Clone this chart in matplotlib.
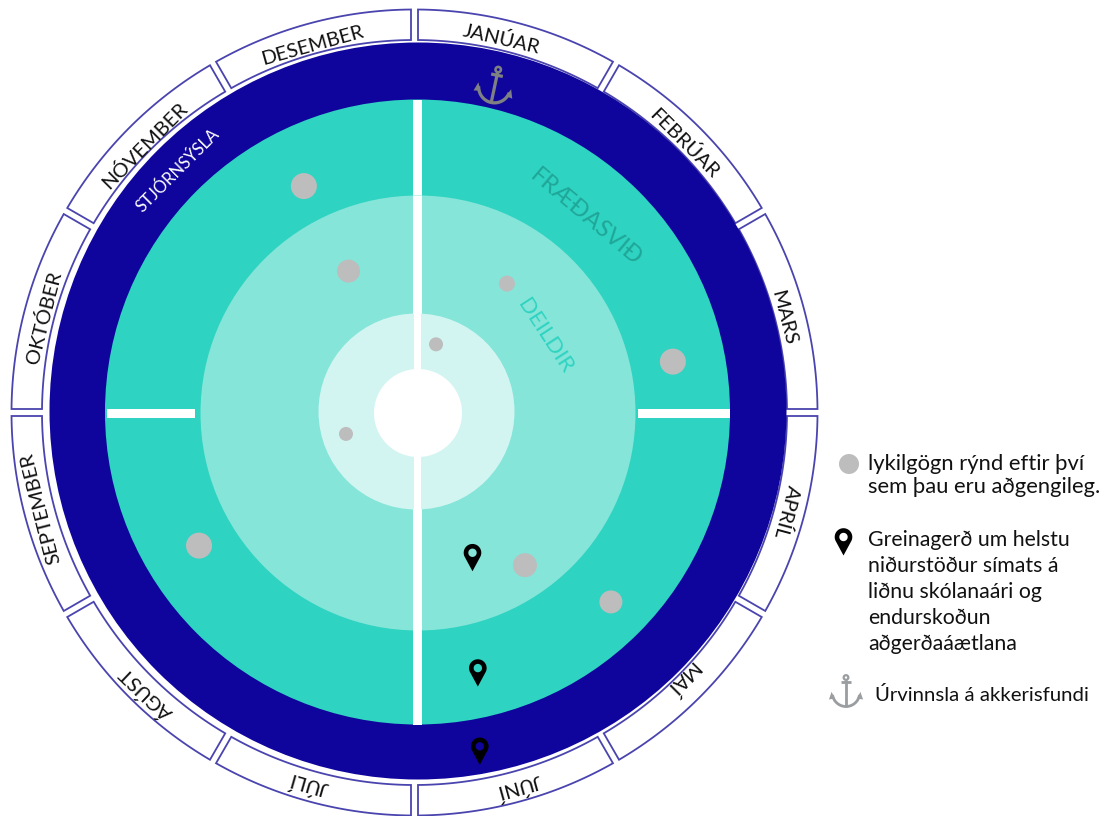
import numpy as np
from matplotlib import pyplot as plt
from matplotlib.patches import Circle, Polygon, PathPatch, Rectangle
from matplotlib.path import Path

plt.rcParams['font.family'] = ['Lato', 'DejaVu Sans']

# one label per twelfth of the wheel, clockwise from the top
months = ['JANÚAR', 'FEBRÚAR', 'MARS', 'APRÍL', 'MAÍ', 'JÚNÍ',
          'JÚLÍ', 'ÁGÚST', 'SEPTEMBER', 'OKTÓBER', 'NÓVEMBER', 'DESEMBER']

# grey dots: position on the year (in months from the top) and distance from centre
key_month = [11.11, 11.13, 1.15, 2.62, 0.49, 8.46, 7.96, 4.83, 4.48]
key_radius = [254, 158, 157, 260, 71, 75, 256, 186, 270]
key_size = [13, 11.5, 8, 13, 7, 7, 13, 12, 11.5]

# black pins
pin_month = [5.29, 5.56, 5.65]
pin_radius = [150, 262, 339]

# anchor
anchor_month = [0.44]
anchor_radius = [337]

legend_key = ['lykilgögn rýnd eftir því', 'sem þau eru aðgengileg.']
legend_pin = ['Greinagerð um helstu', 'niðurstöður símats á', 'liðnu skólanaári og',
              'endurskoðun', 'aðgerðaáætlana']
legend_anchor = 'Úrvinnsla á akkerisfundi'

NAVY = '#0F059C'
TEAL = '#2FD3C1'
LIGHT = '#85E5D9'
PALE = '#D3F5F1'
GREY = '#BDBDBD'
BORDER = '#4A44AE'
CX, CY = 418, 413

# where each month label sits inside its panel
label_month = [0.435, 1.5, 2.52, 3.5, 4.49, 5.48, 6.53, 7.46, 8.52, 9.48, 10.49, 11.48]
label_radius = [383, 381, 381, 385, 377, 388, 386, 388, 386, 383, 380, 380.5]


def wheel_xy(month, radius, cx=CX, cy=CY):
    a = np.radians(np.asarray(month) * 30)
    return cx + np.asarray(radius) * np.sin(a), cy - np.asarray(radius) * np.cos(a)


def month_panel(i, r0=372.5, r1=403, gap=3.5, cx=414.5, cy=412.5):
    # arc ends are pulled back so the gap between panels stays the same width
    t0 = i * 30 + np.degrees(gap / r1)
    t1 = (i + 1) * 30 - np.degrees(gap / r1)
    u0 = i * 30 + np.degrees(gap / r0)
    u1 = (i + 1) * 30 - np.degrees(gap / r0)
    outer = np.radians(np.linspace(t0, t1, 40))
    inner = np.radians(np.linspace(u1, u0, 40))
    xs = np.r_[cx + r1 * np.sin(outer), cx + r0 * np.sin(inner)]
    ys = np.r_[cy - r1 * np.cos(outer), cy - r0 * np.cos(inner)]
    return Polygon(np.c_[xs, ys], closed=True, fc='white', ec=BORDER, lw=1.3)


def pin(ax, x, y):
    # teardrop with a real hole so the background shows through
    th = np.radians(np.linspace(-205, 25, 50))
    head = np.c_[x + 8.8 * np.cos(th), y + 8.8 * np.sin(th)]
    outline = np.vstack([head, [x, y + 18.5], head[0]])
    hole_th = np.radians(np.linspace(360, 0, 30))
    hole = np.c_[x + 4.2 * np.cos(hole_th), y + 4.2 * np.sin(hole_th)]
    verts = np.vstack([outline, hole])
    codes = ([Path.MOVETO] + [Path.LINETO] * (len(outline) - 1)
             + [Path.MOVETO] + [Path.LINETO] * (len(hole) - 1))
    ax.add_patch(PathPatch(Path(verts, codes), fc='black', ec='none', zorder=6))


def anchor(ax, x, y, size, tilt, color='#7F8083'):
    a = np.radians(tilt)

    def rot(px, py):
        return x + size * (px * np.cos(a) - py * np.sin(a)), y + size * (px * np.sin(a) + py * np.cos(a))

    lw = size * 0.13
    kw = dict(color=color, lw=lw, solid_capstyle='butt', zorder=6)
    ax.plot(*rot(np.array([0, 0]), np.array([-0.72, 1.0])), **kw)
    ax.plot(*rot(np.array([-0.33, 0.33]), np.array([-0.55, -0.55])), **kw)
    th = np.linspace(np.pi * 0.05, np.pi * 0.95, 30)
    ax.plot(*rot(0.88 * np.cos(th), 0.12 + 0.88 * np.sin(th)), **kw)
    cx, cy = rot(0, -0.87)
    ax.add_patch(Circle((cx, cy), size * 0.15, fc='none', ec=color, lw=lw * 0.8, zorder=6))
    for side in (-1, 1):
        tip = rot(side * np.array([1.1, 0.72, 0.93]), np.array([0.55, 0.48, 0.05]))
        ax.add_patch(Polygon(np.c_[tip], closed=True, fc=color, ec='none', zorder=6))


fig = plt.figure(figsize=(11.03, 8.16), dpi=100)
ax = fig.add_axes([0, 0, 1, 1])
ax.set_xlim(0, 1103)
ax.set_ylim(816, 0)
ax.set_aspect('equal')
ax.axis('off')

for i in range(12):
    ax.add_patch(month_panel(i))

# the discs, outermost first
ax.add_patch(Circle((418, 411), 368.5, fc=NAVY, ec='none'))
ax.add_patch(Circle((417.5, 412), 312.5, fc=TEAL, ec='none'))
ax.add_patch(Rectangle((412.5, 100), 9.5, 625, fc='white', ec='none'))
ax.add_patch(Rectangle((107, 409), 88, 9, fc='white', ec='none'))
ax.add_patch(Rectangle((638, 409), 92, 9, fc='white', ec='none'))
ax.add_patch(Circle((418, 413), 217.5, fc=LIGHT, ec='none'))
ax.add_patch(Rectangle((413, 196), 9, 435, fc='white', ec='none'))
ax.add_patch(Circle((416.5, 411.5), 98, fc=PALE, ec='none'))
ax.add_patch(Rectangle((414, 313), 7, 197, fc='white', ec='none'))
ax.add_patch(Circle((418, 413), 44, fc='white', ec='none'))

for name, m, r in zip(months, label_month, label_radius):
    x, y = wheel_xy(m, r, cx=414.5, cy=412.5)
    ax.text(x, y, name, rotation=-m * 30, rotation_mode='anchor', ha='center', va='center',
            fontsize=14.5, color='#111111')

ax.text(586, 217, 'FRÆÐASVIÐ', rotation=-40, rotation_mode='anchor', ha='center', va='center',
        fontsize=17, color='#1FA698')
ax.text(178, 170, 'STJÓRNSÝSLA', rotation=45, rotation_mode='anchor', ha='center', va='center',
        fontsize=12, color='white')
ax.text(545, 336, 'DEILDIR', rotation=-57, rotation_mode='anchor', ha='center', va='center',
        fontsize=16, color=TEAL)

kx, ky = wheel_xy(key_month, key_radius)
for x, y, s in zip(kx, ky, key_size):
    ax.add_patch(Circle((x, y), s, fc=GREY, ec='none', zorder=5))

px, py = wheel_xy(pin_month, pin_radius)
for x, y in zip(px, py):
    pin(ax, x, y)

ax_, ay_ = wheel_xy(anchor_month, anchor_radius)
anchor(ax, ax_[0], ay_[0], 18, 12)

# legend on the right
ax.add_patch(Circle((849, 464), 10, fc=GREY, ec='none'))
for y, line in zip([464, 487], legend_key):
    ax.text(868, y, line, fontsize=15.8, va='center', color='#111111')
pin(ax, 843.5, 537)
for y, line in zip([540, 566, 592, 618, 644], legend_pin):
    ax.text(868, y, line, fontsize=15.3, va='center', color='#111111')
anchor(ax, 846, 691, 15.5, 0, color='#9A9EA0')
ax.text(875, 695, legend_anchor, fontsize=14.7, va='center', color='#111111')

fig.savefig('out.png', dpi=100)
